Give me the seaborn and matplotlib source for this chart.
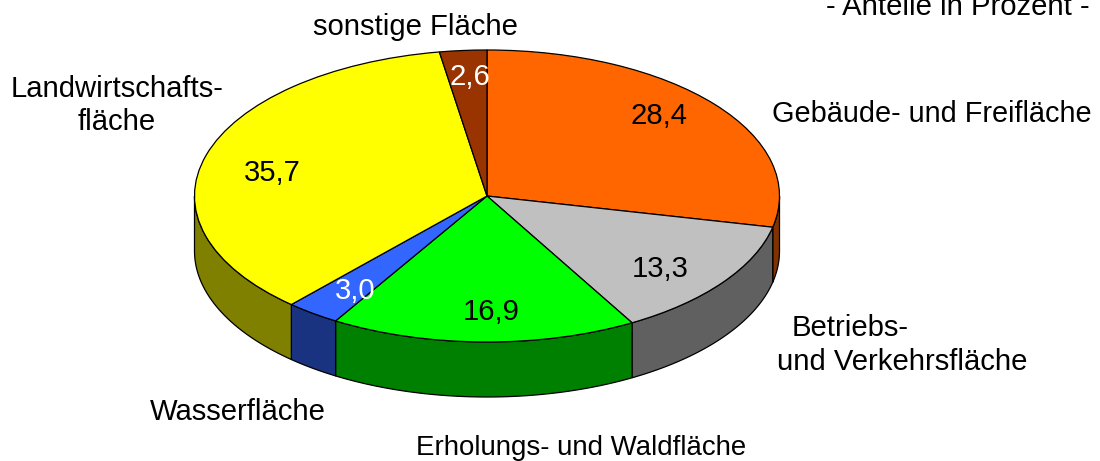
import numpy as np
import matplotlib.pyplot as plt
import seaborn as sns

# values, clockwise from 12 o'clock
names = ['Gebäude- und Freifläche', 'Betriebs-', 'und Verkehrsfläche', 'Erholungs- und Waldfläche',
         'Wasserfläche', 'Landwirtschafts-', 'fläche', 'sonstige Fläche', '- Anteile in Prozent -']
shares = [28.4, 13.3, 16.9, 3.0, 35.7, 2.6]
value_labels = ['28,4', '13,3', '16,9', '3,0', '35,7', '2,6']
top_colors = ['#ff6600', '#c0c0c0', '#00ff00', '#3366ff', '#ffff00', '#993300']
side_colors = ['#803300', '#606060', '#008000', '#1a3380', '#808000', '#4d1a00']
value_colors = ['black', 'black', 'black', 'white', 'black', 'white']

# plotting setup
sns.set_theme(style='white')
plt.rcParams['font.family'] = ['Liberation Sans', 'DejaVu Sans']
font_size = 21.1

W, H = 1100, 461
cx, cy, rx, ry = 487, 196, 292.5, 146
depth = 55 / ry  # wall height in data units

fig = plt.figure(figsize=(W / 100, H / 100), dpi=100)
ax = fig.add_axes([0, 0, 1, 1])

## the top of the pie
ax.pie(shares, colors=top_colors, startangle=90, counterclock=False,
       wedgeprops={'edgecolor': 'black', 'linewidth': 0.9})
ax.set_aspect('auto')
ax.set_xlim(-cx / rx, (W - cx) / rx)
ax.set_ylim(-(H - cy) / ry, cy / ry)

## the walls, only the front half can be seen
edges = 90 - np.concatenate([[0], np.cumsum(shares)]) / np.sum(shares) * 360
for i in range(len(shares)):
    a0 = max(edges[i + 1], -180)
    a1 = min(edges[i], 0)
    if a0 >= a1:
        continue
    t = np.radians(np.linspace(a0, a1, 80))
    xs = np.cos(t)
    ys = np.sin(t)
    ax.fill(np.r_[xs, xs[::-1]], np.r_[ys, ys[::-1] - depth],
            facecolor=side_colors[i], edgecolor='black', linewidth=0.9, zorder=0.5)


def px_text(x, y, s, color='black', size=font_size):
    ax.text(x / W, 1 - y / H, s, transform=ax.transAxes, fontsize=size,
            color=color, va='center', ha='center')


## value labels
value_pos = [(659, 116), (660, 269), (491, 312), (355, 291), (272, 173), (470, 77)]
for (x, y), s, c in zip(value_pos, value_labels, value_colors):
    px_text(x, y, s, color=c)

## category labels
label_pos = [(932, 114), (850, 328), (902, 362), (581, 448), (238, 412),
             (117, 89), (117, 122), (415, 27), (958, 7)]
# these two run narrower in the reference
label_sizes = {'Gebäude- und Freifläche': 20.8, 'Erholungs- und Waldfläche': 19.9}
for (x, y), s in zip(label_pos, names):
    px_text(x, y, s, size=label_sizes.get(s, font_size))

plt.savefig('out.png', dpi=100)
